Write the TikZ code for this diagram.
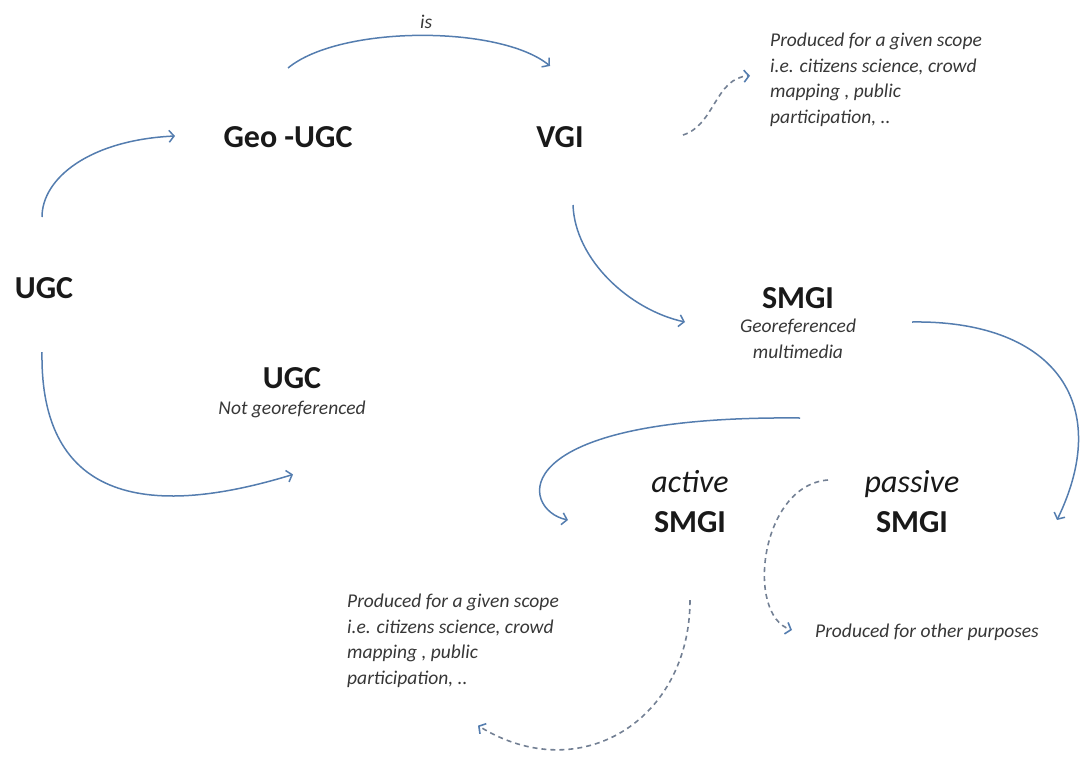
\documentclass[tikz,border=0pt]{standalone}
\usepackage{fontspec}
\setmainfont{Carlito}
\usetikzlibrary{arrows.meta, positioning}
\definecolor{flowblue}{RGB}{84,125,175}
\definecolor{hintgray}{RGB}{115,128,148}
\definecolor{textdark}{RGB}{25,25,25}
\definecolor{notegray}{RGB}{55,55,55}

\begin{document}
\begin{tikzpicture}[
  x=1pt, y=-1pt,
  term/.style={inner sep=0pt, font=\fontsize{32}{40}\selectfont\bfseries, text=textdark},
  kind/.style={inner sep=0pt, align=center, font=\fontsize{32}{40}\selectfont, text=textdark},
  note/.style={inner sep=0pt, align=center, font=\fontsize{19.5}{25.5}\selectfont\itshape, text=notegray},
  scopetext/.style={inner sep=0pt, align=left, font=\fontsize{19.5}{25.5}\selectfont\itshape, text=notegray},
  flow/.style={-{Straight Barb[length=5pt,width=12pt]}, line width=1.5pt, color=flowblue},
  hint/.style={-{Straight Barb[length=5pt,width=12pt,color=flowblue]}, line width=1.6pt,
               dash pattern=on 5pt off 4pt, color=hintgray},
]
  \useasboundingbox (0,0) rectangle (1086,756);

  % top row
  \node[term] (geo) at (288,137) {Geo -UGC};
  \node[term] (vgi) at (560,137) {VGI};
  \node[scopetext, anchor=north west] (vgiscope) at (770,33)
    {Produced for a given scope\\i.e. citizens science, crowd\\mapping , public\\participation, ..};

  % left side
  \node[term] (ugc) at (44,288) {UGC};
  \node[term] (plain) at (292,378) {UGC};
  \node[note, below=12pt of plain] (plainnote) {Not georeferenced};

  % SMGI and its two kinds
  \node[term] (smgi) at (798,298) {SMGI};
  \node[note, below=10pt of smgi] (smginote) {Georeferenced\\multimedia};
  \node[kind] (active) at (690,502) {\textit{active}\\\textbf{SMGI}};
  \node[kind] (passive) at (912,502) {\textit{passive}\\\textbf{SMGI}};
  \node[scopetext, anchor=north west] (activescope) at (347,594)
    {Produced for a given scope\\i.e. citizens science, crowd\\mapping , public\\participation, ..};
  \node[scopetext, anchor=west] (passivescope) at (815,632) {Produced for other purposes};

  \draw[flow] ([shift={(-2,-71)}]ugc.center) .. controls +(0,-39) and +(-85,4) .. ([shift={(-113,-1)}]geo.center);
  \draw[flow] ([shift={(0,-69)}]geo.center) .. controls +(52,-43) and +(-50,-41)
    .. node[pos=.52, above=6pt, note] (isword) {is} ([shift={(-10,-71)}]vgi.center);
  \draw[flow] ([shift={(13,68)}]vgi.center) .. controls +(2,55) and +(-55,-12) .. ([shift={(-113,24)}]smgi.center);
  \draw[hint] ([shift={(123,-2)}]vgi.center) .. controls +(32,-10) and +(-35,2) .. ([shift={(-20,-4)}]vgiscope.west);
  \draw[flow] ([shift={(-2,64)}]ugc.center) .. controls +(-2,128) and +(-173,53) .. ([shift={(1,65)}]plainnote.center);
  \draw[flow] ([shift={(114,24)}]smgi.center) .. controls +(138,-2) and +(58,-120) .. ([shift={(145,18)}]passive.center);
  \draw[flow] ([shift={(2,120)}]smgi.center) .. controls +(-300,-3) and +(-48,-10) .. ([shift={(-122,18)}]active.center);
  \draw[hint] ([shift={(-84,-22)}]passive.center) .. controls +(-68,5) and +(-47,-15) .. ([shift={(-23,-2)}]passivescope.west);
  \draw[hint] ([shift={(0,98)}]active.center) .. controls +(0,120) and +(102,63) .. ([shift={(131,38)}]activescope.south west);
\end{tikzpicture}
\end{document}
